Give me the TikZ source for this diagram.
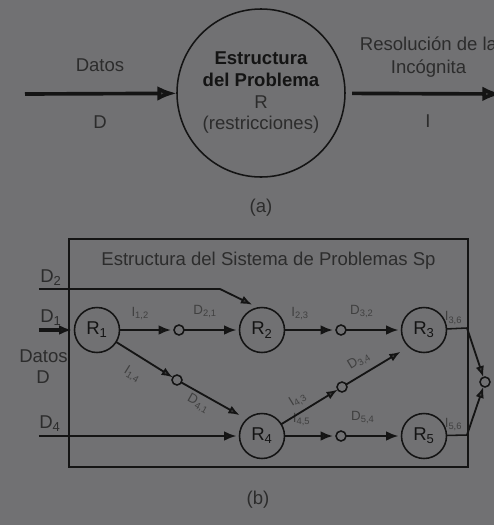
\documentclass[tikz,border=0pt]{standalone}
\usepackage{fontspec}
\setmainfont{Liberation Sans}
\usepackage{tikz-network}
\usetikzlibrary{arrows.meta}

\definecolor{fondo}{HTML}{717173}
\definecolor{linea}{HTML}{141414}
\definecolor{texto}{HTML}{2c2c2c}

\newcommand{\grande}{\fontsize{13.2}{15.4}\selectfont}
\newcommand{\chica}{\fontsize{9.5}{11}\selectfont}

\SetVertexStyle[TextFont=\grande, TextColor=linea, LineColor=linea, FillOpacity=0]
\SetEdgeStyle[TextFont=\chica, TextFillOpacity=0]

\tikzset{
  rotulo/.style={text=texto, font=\grande, inner sep=0pt},
  circ/.style={fill=none, draw=linea, line width=1.1pt},
  libre/.style={fill=none, draw=none, inner sep=0pt, outer sep=0pt},
  flechaA/.style={draw=linea, line width=2.6pt, -{Latex[length=14pt, width=10.5pt]}},
  flechaB/.style={draw=linea, line width=2pt, shorten >=2pt, -{Latex[length=9pt, width=7pt]}},
  flechaC/.style={draw=linea, line width=1.3pt, -{Latex[length=8pt, width=6pt]}},
  trazo/.style={draw=linea, line width=1.1pt},
}

\begin{document}
\begin{tikzpicture}
    \useasboundingbox (0,0) rectangle (494/40,-525/40);
    \begin{pgfonlayer}{background}
        \fill[fondo] (0,0) rectangle (494/40,-525/40);
    \end{pgfonlayer}

    \Vertex[x=25/40, y=-94/40, size=0, style={libre}]{Din}
    \Vertex[x=261/40, y=-93/40, size=4.2, label={\begin{tabular}{@{}c@{}}\textbf{Estructura}\\\textbf{del Problema}\\{\color{texto}R}\\{\color{texto}(restricciones)}\end{tabular}}, style={circ}]{R}
    \Vertex[x=502/40, y=-94/40, size=0, style={libre}]{Iout}
    \Edge[Direct, style={flechaA}](Din)(R)
    \Edge[Direct, style={flechaA, shorten <=5pt}](R)(Iout)
    \node[rotulo, anchor=base] (datosA) at (100/40,-71/40) {Datos};
    \node[rotulo, anchor=base] (dA) at (100/40,-128/40) {D};
    \node[rotulo, anchor=base] (resol) at (428.5/40,-50/40) {Resolución de la};
    \node[rotulo, anchor=base] (incog) at (428.5/40,-73/40) {Incógnita};
    \node[rotulo, anchor=base] (iA) at (428/40,-127/40) {I};
    \node[rotulo] (capA) at (261/40,-208/40) {(a)};

    \draw[linea, line width=1.4pt] (69/40,-239/40) rectangle (468/40,-467/40);
    \node[rotulo, anchor=base] (titulo) at (268.5/40,-265/40) {Estructura del Sistema de Problemas Sp};
    \node[rotulo, anchor=base west] (lD2) at (40/40,-282/40) {D\textsubscript{2}};
    \node[rotulo, anchor=base west] (lD1) at (40/40,-322/40) {D\textsubscript{1}};
    \node[rotulo, anchor=base] (datosB) at (43.5/40,-362/40) {Datos};
    \node[rotulo, anchor=base] (dB) at (43/40,-383/40) {D};
    \node[rotulo, anchor=base west] (lD4) at (39/40,-428/40) {D\textsubscript{4}};
    \node[rotulo] (capB) at (258/40,-500/40) {(b)};

    \Vertex[x=97/40, y=-330/40, size=1.125, label={R\textsubscript{1}}, style={circ}]{R1}
    \Vertex[x=262/40, y=-330/40, size=1.125, label={R\textsubscript{2}}, style={circ}]{R2}
    \Vertex[x=424/40, y=-330/40, size=1.125, label={R\textsubscript{3}}, style={circ}]{R3}
    \Vertex[x=262/40, y=-436/40, size=1.125, label={R\textsubscript{4}}, style={circ}]{R4}
    \Vertex[x=424/40, y=-436/40, size=1.125, label={R\textsubscript{5}}, style={circ}]{R5}
    \Vertex[x=179/40, y=-330/40, size=0.25, style={circ}]{n12}
    \Vertex[x=341/40, y=-330/40, size=0.25, style={circ}]{n23}
    \Vertex[x=177/40, y=-380/40, size=0.25, style={circ}]{n14}
    \Vertex[x=342/40, y=-387/40, size=0.25, style={circ}]{n43}
    \Vertex[x=341/40, y=-436/40, size=0.25, style={circ}]{n45}
    \Vertex[x=485/40, y=-382/40, size=0.25, style={circ}]{n6}
    \Vertex[x=39/40, y=-289/40, size=0, style={libre}]{d2a}
    \Vertex[x=220/40, y=-289/40, size=0, style={libre}]{d2b}
    \Vertex[x=39/40, y=-330/40, size=0, style={libre}]{d1a}
    \Vertex[x=39/40, y=-436/40, size=0, style={libre}]{d4a}
    \Vertex[x=467/40, y=-328/40, size=0, style={libre}]{e3}
    \Vertex[x=467/40, y=-435/40, size=0, style={libre}]{e5}

    \Edge[style={trazo, line width=1.4pt}](d2a)(d2b)
    \Edge[Direct, style={flechaC, shorten >=5pt}](d2b)(R2.99)
    \Edge[Direct, style={flechaB, line width=2.4pt}](d1a)(R1)
    \Edge[Direct, style={flechaB}](d4a)(R4)
    \Edge[Direct, style={flechaB}, label={I\textsubscript{1,2}}, position={above=3pt}, distance=0.37](R1)(n12)
    \Edge[Direct, style={flechaB}, label={D\textsubscript{2,1}}, position={above=3pt}, distance=0.37](n12)(R2)
    \Edge[Direct, style={flechaB}, label={I\textsubscript{2,3}}, position={above=3pt}, distance=0.29](R2)(n23)
    \Edge[Direct, style={flechaB}, label={D\textsubscript{3,2}}, position={above=3pt}, distance=0.27](n23)(R3)
    \Edge[Direct, style={flechaB}, label={I\textsubscript{4,5}}, position={above=3pt}, distance=0.32](R4)(n45)
    \Edge[Direct, style={flechaB}, label={D\textsubscript{5,4}}, position={above=3pt}, distance=0.29](n45)(R5)
    \Edge[Direct, style={flechaC}, label={I\textsubscript{1,4}}, position={below=5pt, sloped}, distance=0.46](R1)(n14)
    \Edge[Direct, style={flechaC, shorten >=6pt}, label={D\textsubscript{4,1}}, position={below=-3pt, sloped}, distance=0.32](n14)(R4.132)
    \Edge[Direct, style={flechaC}, label={I\textsubscript{4,3}}, position={above=0pt, sloped}, distance=0.40](R4)(n43)
    \Edge[Direct, style={flechaC, shorten >=7pt}, label={D\textsubscript{3,4}}, position={above=-1pt, sloped}, distance=0.30](n43)(R3.228)
    \Edge[style={trazo}, label={I\textsubscript{3,6}}, position={above=-1pt}, distance=0.33](R3)(e3)
    \Edge[style={trazo}, label={I\textsubscript{5,6}}, position={above=-1pt}, distance=0.33](R5)(e5)
    \Edge[Direct, style={flechaC}](e3)(n6)
    \Edge[Direct, style={flechaC}](e5)(n6)
\end{tikzpicture}
\end{document}
